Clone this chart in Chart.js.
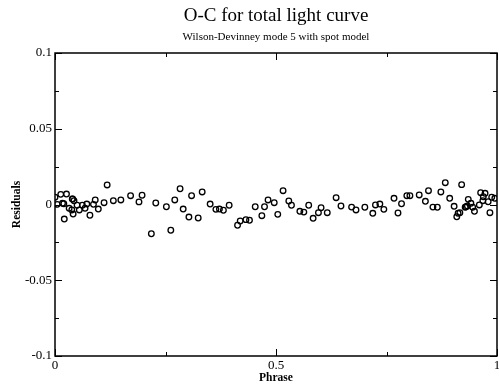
<!DOCTYPE html>
<html>
<head>
<meta charset="utf-8">
<script src="https://cdn.jsdelivr.net/npm/chart.js@4/dist/chart.umd.min.js"></script>
<style>
  html, body { margin: 0; padding: 0; background: #fff; }
  #wrap { width: 499px; height: 385px; }
</style>
</head>
<body>
<div id="wrap"><canvas id="chart"></canvas></div>
<script>
// phase of each observation
let phase = [0.000, 0.013, 0.026, 0.005, 0.017, 0.020, 0.032, 0.038, 0.040, 0.043,
  0.021, 0.041, 0.050, 0.055, 0.062, 0.068, 0.072, 0.079, 0.087, 0.091,
  0.098, 0.111, 0.118, 0.132, 0.149, 0.171, 0.190, 0.197, 0.228, 0.252,
  0.271, 0.283, 0.290, 0.309, 0.303, 0.324, 0.333, 0.351, 0.364, 0.372,
  0.381, 0.394, 0.218, 0.262, 0.413, 0.419, 0.432, 0.440, 0.453, 0.468,
  0.474, 0.482, 0.496, 0.504, 0.516, 0.529, 0.535, 0.554, 0.563, 0.574,
  0.584, 0.596, 0.602, 0.616, 0.636, 0.647, 0.671, 0.681, 0.701, 0.719,
  0.725, 0.735, 0.744, 0.767, 0.784, 0.776, 0.796, 0.803, 0.824, 0.838,
  0.845, 0.855, 0.865, 0.873, 0.883, 0.893, 0.903, 0.920, 0.912, 0.916,
  0.909, 0.928, 0.933, 0.935, 0.941, 0.945, 0.949, 0.960, 0.963, 0.973,
  0.968, 0.980, 0.988, 0.995, 0.984, 0.969, 0.039, 0.930];
// O-C residuals
let residuals = [0.0048, 0.0067, 0.0069, 0.0001, 0.0008, 0.0005, -0.0025, -0.0036, 0.0036, 0.0025,
  -0.0096, -0.0063, -0.0005, -0.0036, -0.0005, -0.0025, 0.0003, -0.0071, 0.0001, 0.0030,
  -0.0030, 0.0012, 0.0129, 0.0025, 0.0030, 0.0058, 0.0017, 0.0061, 0.0010, -0.0015,
  0.0030, 0.0104, -0.0030, 0.0058, -0.0083, -0.0089, 0.0083, 0.0003, -0.0032, -0.0030,
  -0.0038, -0.0005, -0.0193, -0.0170, -0.0137, -0.0109, -0.0100, -0.0104, -0.0015, -0.0074,
  -0.0015, 0.0030, 0.0012, -0.0065, 0.0091, 0.0023, -0.0005, -0.0045, -0.0050, -0.0005,
  -0.0091, -0.0054, -0.0021, -0.0054, 0.0045, -0.0010, -0.0017, -0.0036, -0.0018, -0.0058,
  -0.0003, 0.0003, -0.0032, 0.0041, 0.0005, -0.0056, 0.0058, 0.0058, 0.0063, 0.0021,
  0.0091, -0.0017, -0.0018, 0.0083, 0.0144, 0.0041, -0.0012, 0.0131, -0.0058, -0.0054,
  -0.0081, -0.0018, -0.0010, 0.0034, 0.0008, -0.0018, -0.0045, -0.0003, 0.0078, 0.0074,
  0.0025, 0.0018, 0.0048, 0.0041, -0.0054, 0.0051, 0.0037, -0.0015];
let xMajor = [0, 0.5, 1];
let xMinor = [0.25, 0.75];
let xLabels = ['0', '0.5', '1'];
let yMajor = [-0.1, -0.05, 0, 0.05, 0.1];
let yMinor = [-0.075, -0.025, 0.025, 0.075];

let points = phase.map((p, i) => ({ x: p, y: residuals[i] }));
let serif = "'Liberation Serif', 'DejaVu Serif', serif";

// inward ticks on all four sides, frame, and the x tick labels
// (x labels drawn here so the last one doesn't push the plot edge in)
let frameTicks = {
  id: 'frameTicks',
  afterDraw(chart) {
    let c = chart.ctx, a = chart.chartArea;
    let sx = chart.scales.x, sy = chart.scales.y;
    c.save();
    c.strokeStyle = '#000';
    c.lineWidth = 1;
    c.beginPath();
    let tx = (v, len) => {
      let px = Math.round(sx.getPixelForValue(v)) + 0.5;
      c.moveTo(px, a.bottom); c.lineTo(px, a.bottom - len);
      c.moveTo(px, a.top); c.lineTo(px, a.top + len);
    };
    let ty = (v, len) => {
      let py = Math.round(sy.getPixelForValue(v)) + 0.5;
      c.moveTo(a.left, py); c.lineTo(a.left + len, py);
      c.moveTo(a.right, py); c.lineTo(a.right - len, py);
    };
    xMajor.forEach(v => tx(v, 7));
    xMinor.forEach(v => tx(v, 4));
    yMajor.forEach(v => ty(v, 7));
    yMinor.forEach(v => ty(v, 4));
    c.stroke();
    c.lineWidth = 1.5;
    c.strokeRect(a.left, a.top, a.right - a.left, a.bottom - a.top);

    c.fillStyle = '#000';
    c.font = '13px ' + serif;
    c.textAlign = 'center';
    c.textBaseline = 'top';
    xMajor.forEach((v, i) => {
      c.fillText(xLabels[i], sx.getPixelForValue(v), a.bottom + 3);
    });
    c.restore();
  }
};

let ctx = document.getElementById('chart').getContext('2d');
let chart = new Chart(ctx, {
  type: 'scatter',
  data: {
    datasets: [{
      data: points,
      pointStyle: 'circle',
      pointRadius: 2.8,
      pointBorderWidth: 1.3,
      pointBorderColor: '#000',
      pointBackgroundColor: 'rgba(255,255,255,0)'
    }]
  },
  options: {
    responsive: true,
    maintainAspectRatio: false,
    animation: false,
    layout: { autoPadding: false, padding: { left: 10, right: 2, top: 5, bottom: 0 } },
    plugins: {
      legend: { display: false },
      tooltip: { enabled: false },
      title: {
        display: true,
        fullSize: false,
        text: 'O-C for total light curve',
        color: '#000',
        font: { family: serif, size: 19, weight: 'normal' },
        padding: { top: 0, bottom: 3 }
      },
      subtitle: {
        display: true,
        fullSize: false,
        text: 'Wilson-Devinney mode 5 with spot model',
        color: '#000',
        font: { family: serif, size: 11 },
        padding: { top: 0, bottom: 9 }
      }
    },
    scales: {
      x: {
        type: 'linear',
        min: 0, max: 1,
        afterFit: s => { s.height = 29; },
        grid: { display: false, drawTicks: false, tickLength: 0 },
        border: { display: false },
        ticks: { display: false },
        title: {
          display: true, text: 'Phrase', color: '#000',
          font: { family: serif, size: 11.5, weight: 'bold' },
          padding: { top: 0, bottom: 0 }
        }
      },
      y: {
        min: -0.1, max: 0.1,
        afterBuildTicks: s => { s.ticks = yMajor.map(v => ({ value: v })); },
        afterFit: s => { s.width = 45; },
        grid: { display: false, drawTicks: false, tickLength: 0 },
        border: { display: false },
        ticks: {
          color: '#000', padding: 3,
          font: { family: serif, size: 13 },
          callback: v => String(+v.toFixed(3))
        },
        title: {
          display: true, text: 'Residuals', color: '#000',
          font: { family: serif, size: 11.5, weight: 'bold' },
          padding: { top: 0, bottom: 0 }
        }
      }
    }
  },
  plugins: [frameTicks]
});
</script>
</body>
</html>
